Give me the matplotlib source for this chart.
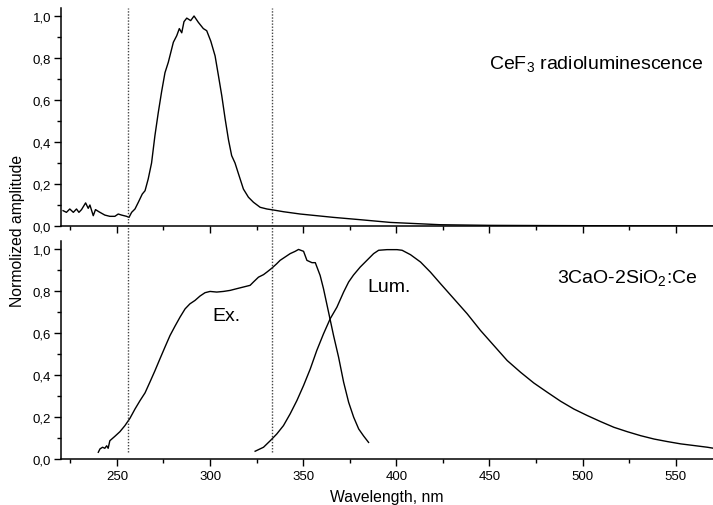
import matplotlib
matplotlib.use('Agg')
import matplotlib.pyplot as plt

plt.rcParams['font.family'] = ['Liberation Sans', 'DejaVu Sans']
plt.rcParams['mathtext.fontset'] = 'custom'
plt.rcParams['mathtext.rm'] = 'Liberation Sans'
plt.rcParams['mathtext.it'] = 'Liberation Sans'

# CeF3 radioluminescence (top panel)
cef3_wl = [221.1, 222.9, 224.7, 226.6, 228.3, 229.6, 231.0, 233.2, 234.6, 235.5, 237.3, 238.5,
           240.3, 243.5, 246.2, 248.9, 250.7, 252.5, 255.2, 256.5, 257.9, 259.7, 261.5, 263.6,
           265.1, 266.8, 268.6, 270.4, 272.2, 274.0, 275.8, 277.6, 280.3, 282.1, 283.5, 284.8,
           286.0, 287.5, 289.6, 291.4, 293.7, 296.4, 298.2, 300.4, 302.7, 304.5, 306.3, 308.1,
           309.9, 311.6, 313.4, 315.2, 317.9, 320.6, 323.3, 326.9, 330.5, 334.1, 339.4, 348.4,
           366.3, 380.6, 396.8, 423.7, 450.5, 480.0, 520.0, 570.0]
cef3_amp = [0.073, 0.065, 0.081, 0.065, 0.081, 0.065, 0.078, 0.110, 0.084, 0.100, 0.049, 0.078,
            0.068, 0.052, 0.046, 0.046, 0.057, 0.052, 0.046, 0.041, 0.065, 0.081, 0.113, 0.152,
            0.168, 0.224, 0.300, 0.430, 0.540, 0.640, 0.730, 0.780, 0.875, 0.906, 0.940, 0.920,
            0.973, 0.990, 0.978, 1.000, 0.970, 0.940, 0.930, 0.880, 0.810, 0.716, 0.620, 0.510,
            0.410, 0.335, 0.300, 0.250, 0.176, 0.137, 0.113, 0.089, 0.081, 0.076, 0.068, 0.057,
            0.041, 0.030, 0.017, 0.006, 0.003, 0.002, 0.001, 0.000]

# 3CaO-2SiO2:Ce excitation (bottom panel)
ex_wl = [240.0, 240.9, 242.3, 243.5, 244.5, 245.3, 246.2, 248.9, 251.6, 254.3, 257.0, 259.7,
         262.4, 265.1, 267.7, 270.4, 273.1, 275.8, 278.5, 281.2, 283.9, 286.6, 289.2, 291.9,
         294.6, 297.3, 300.0, 303.6, 307.2, 310.8, 314.3, 317.9, 321.5, 323.3, 326.0, 328.7,
         330.5, 333.2, 335.8, 337.6, 340.3, 343.0, 345.7, 347.5, 350.2, 352.0, 354.7, 356.5,
         359.1, 360.9, 363.6, 366.3, 369.0, 371.7, 374.4, 377.1, 379.8, 382.4, 385.1]
ex_amp = [0.032, 0.048, 0.056, 0.051, 0.063, 0.051, 0.087, 0.108, 0.130, 0.159, 0.194, 0.238,
          0.278, 0.315, 0.366, 0.420, 0.477, 0.533, 0.588, 0.633, 0.676, 0.715, 0.739, 0.755,
          0.776, 0.792, 0.798, 0.795, 0.798, 0.803, 0.811, 0.819, 0.827, 0.843, 0.866, 0.878,
          0.890, 0.909, 0.930, 0.946, 0.962, 0.978, 0.989, 0.998, 0.989, 0.946, 0.935, 0.935,
          0.874, 0.811, 0.700, 0.588, 0.485, 0.366, 0.270, 0.199, 0.143, 0.110, 0.079]

# 3CaO-2SiO2:Ce luminescence (bottom panel)
lum_wl = [324.2, 328.7, 332.3, 335.8, 339.4, 343.0, 346.6, 350.2, 353.8, 357.3, 360.9, 364.5,
          368.1, 371.7, 374.4, 377.0, 380.6, 384.2, 387.8, 390.5, 395.0, 400.4, 403.1, 407.6,
          413.0, 418.3, 423.7, 430.9, 438.0, 445.2, 452.4, 459.5, 466.7, 473.8, 481.0, 488.2,
          495.3, 502.5, 509.7, 516.8, 524.0, 531.2, 538.4, 545.5, 552.7, 559.9, 567.0, 570.4]
lum_amp = [0.037, 0.056, 0.087, 0.119, 0.159, 0.215, 0.278, 0.350, 0.429, 0.517, 0.596, 0.668,
           0.723, 0.795, 0.843, 0.876, 0.914, 0.946, 0.978, 0.994, 0.997, 0.997, 0.994, 0.973,
           0.938, 0.890, 0.835, 0.763, 0.692, 0.612, 0.540, 0.469, 0.413, 0.362, 0.318, 0.275,
           0.238, 0.207, 0.178, 0.151, 0.130, 0.111, 0.095, 0.083, 0.072, 0.064, 0.056, 0.051]

marker_wl = [256, 333]

x_major = [250, 300, 350, 400, 450, 500, 550]
x_minor = [225, 275, 325, 375, 425, 475, 525]
x_labels = ['250', '300', '350', '400', '450', '500', '550']
y_major = [0.0, 0.2, 0.4, 0.6, 0.8, 1.0]
y_minor = [0.1, 0.3, 0.5, 0.7, 0.9]
y_labels = ['0,0', '0,2', '0,4', '0,6', '0,8', '1,0']

fig = plt.figure(figsize=(7.13, 5.06), dpi=100)
ax_top = fig.add_axes([0.0856, 0.5514, 0.9144, 0.4316])
ax_bot = fig.add_axes([0.0856, 0.0909, 0.9144, 0.4316])

for ax in (ax_top, ax_bot):
    ax.set_xlim(220, 570)
    ax.set_ylim(0, 1.04)
    ax.spines['top'].set_visible(False)
    ax.spines['right'].set_visible(False)
    ax.spines['left'].set_linewidth(1.1)
    ax.spines['bottom'].set_linewidth(1.1)
    ax.set_xticks(x_major)
    ax.set_xticks(x_minor, minor=True)
    ax.set_yticks(y_major)
    ax.set_yticks(y_minor, minor=True)
    ax.set_yticklabels(y_labels)
    ax.tick_params(which='major', direction='out', length=5, width=1, labelsize=9.5, pad=2)
    ax.tick_params(which='minor', direction='out', length=3, width=1)

ax_top.set_xticklabels([])
ax_bot.set_xticklabels(x_labels)
ax_bot.tick_params(axis='x', pad=3)

ax_top.plot(cef3_wl, cef3_amp, color='black', lw=1.0)
ax_bot.plot(ex_wl, ex_amp, color='black', lw=1.0)
ax_bot.plot(lum_wl, lum_amp, color='black', lw=1.0)

for w in marker_wl:
    ax_top.axvline(w, color='#444444', lw=1.0, dashes=(1, 1.2))
    ax_bot.axvline(w, ymin=0.03, ymax=1.07, color='#444444', lw=1.0, dashes=(1, 1.2),
                   clip_on=False)

ax_top.text(449.7, 0.751, r'CeF$_3$ radioluminescence', fontsize=14, ha='left', va='baseline')
ax_bot.text(486.4, 0.841, r'3CaO-2SiO$_2$:Ce', fontsize=14, ha='left', va='baseline')
ax_bot.text(301.1, 0.662, 'Ex.', fontsize=14, ha='left', va='baseline')
ax_bot.text(384.2, 0.800, 'Lum.', fontsize=14, ha='left', va='baseline')

fig.text(0.025, 0.5435, 'Normolized amplitude', rotation=90, fontsize=11.3,
         ha='center', va='center')
fig.text(0.543, 0.016, 'Wavelength, nm', fontsize=11.3, ha='center', va='center')

fig.savefig('out.png', dpi=100)
